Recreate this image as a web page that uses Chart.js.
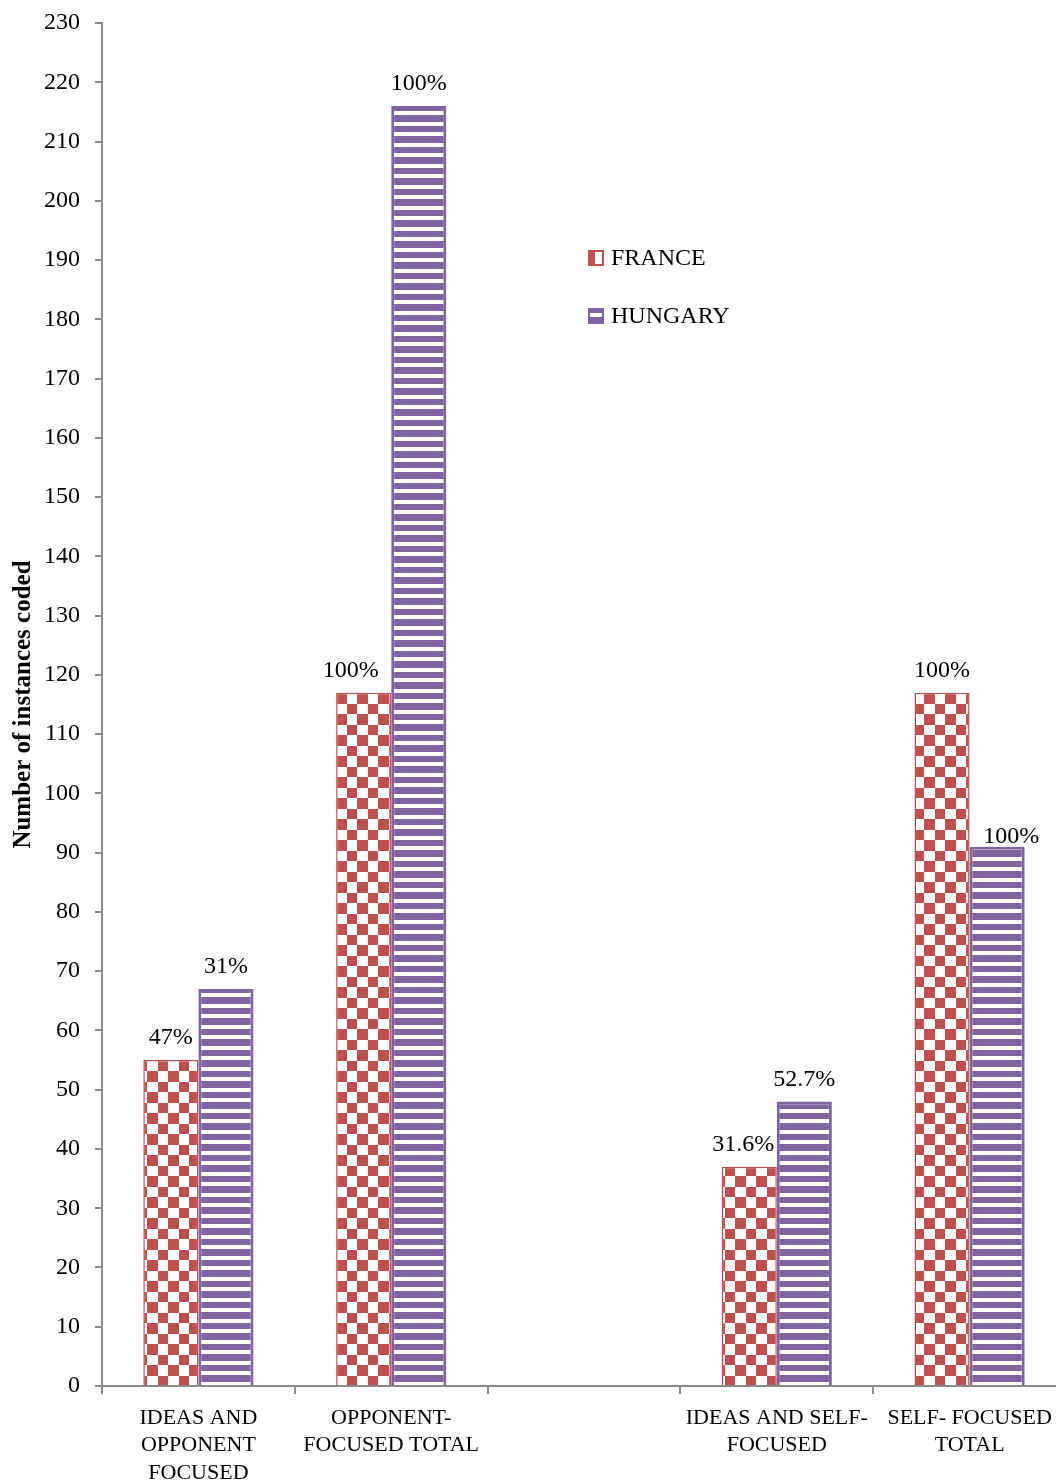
<!DOCTYPE html>
<html>
<head>
<meta charset="utf-8">
<script src="https://cdn.jsdelivr.net/npm/chart.js@4.4.1/dist/chart.umd.min.js"></script>
<style>
  html, body { margin: 0; padding: 0; background: #ffffff; overflow: hidden; }
  #wrap { width: 1066px; height: 1482px; position: relative; }
</style>
</head>
<body>
<div id="wrap"><canvas id="chart" width="1066" height="1482"></canvas></div>
<script>
// Categories (the third slot is an empty spacer group)
const categories = [
  ["IDEAS AND", "OPPONENT", "FOCUSED"],
  ["OPPONENT-", "FOCUSED TOTAL"],
  "",
  ["IDEAS AND SELF-", "FOCUSED"],
  ["SELF- FOCUSED", "TOTAL"]
];

// Number of instances coded
const franceValues  = [55, 117, null, 37, 117];
const hungaryValues = [67, 216, null, 48, 91];

// Share labels printed above each bar
const franceLabels  = ["47%", "100%", "", "31.6%", "100%"];
const hungaryLabels = ["31%", "100%", "", "52.7%", "100%"];

// Value axis range
const yMin = 0;
const yMax = 230;
const yStep = 10;

const RED = '#C0504D';
const PURPLE = '#8064A2';
const AXIS = '#8a8a8a';
const FONT = '"Liberation Serif", "Times New Roman", serif';

// Red-and-white checkerboard fill
function checkerPattern() {
  const t = document.createElement('canvas');
  t.width = 21; t.height = 21;
  const g = t.getContext('2d');
  g.fillStyle = '#ffffff';
  g.fillRect(0, 0, 21, 21);
  g.fillStyle = RED;
  g.fillRect(0, 0, 11, 11);
  g.fillRect(11, 11, 10, 10);
  return g.createPattern(t, 'repeat');
}

// Purple horizontal stripes on white
function stripePattern() {
  const t = document.createElement('canvas');
  t.width = 8; t.height = 21;
  const g = t.getContext('2d');
  g.fillStyle = '#ffffff';
  g.fillRect(0, 0, 8, 21);
  g.fillStyle = PURPLE;
  g.fillRect(0, 0, 8, 6);
  g.fillRect(0, 10, 8, 7);
  return g.createPattern(t, 'repeat');
}

// Percentage labels above the bars
const barLabelPlugin = {
  id: 'barLabels',
  afterDatasetsDraw(chart, args, opts) {
    const ctx = chart.ctx;
    ctx.save();
    ctx.font = opts.font;
    ctx.fillStyle = '#000000';
    ctx.textAlign = 'center';
    ctx.textBaseline = 'middle';
    chart.data.datasets.forEach((ds, di) => {
      const meta = chart.getDatasetMeta(di);
      const texts = opts.texts[di];
      const dx = opts.nudgeX[di];
      const dy = opts.nudgeY[di];
      meta.data.forEach((bar, i) => {
        if (ds.data[i] == null || !texts[i]) return;
        ctx.fillText(texts[i], bar.x + dx[i], bar.y - opts.gap + dy[i]);
      });
    });
    ctx.restore();
  }
};

// Legend drawn inside the plot area
const insideLegendPlugin = {
  id: 'insideLegend',
  afterDraw(chart, args, opts) {
    const ctx = chart.ctx;
    ctx.save();
    ctx.font = opts.font;
    ctx.textAlign = 'left';
    ctx.textBaseline = 'middle';
    opts.items.forEach((it, k) => {
      const cy = opts.y + k * opts.rowGap;
      const x = opts.x, y = cy - 8;
      ctx.fillStyle = it.color;
      ctx.fillRect(x, y, 16, 16);
      ctx.fillStyle = '#ffffff';
      if (it.kind === 'check') ctx.fillRect(x + 7, y + 2, 7, 12);
      else ctx.fillRect(x + 2, y + 5, 12, 4);
      ctx.fillStyle = '#000000';
      ctx.fillText(it.text, x + 23, cy + 1);
    });
    ctx.restore();
  }
};

const ctx = document.getElementById('chart').getContext('2d');

new Chart(ctx, {
  type: 'bar',
  data: {
    labels: categories,
    datasets: [
      {
        label: 'FRANCE',
        data: franceValues,
        backgroundColor: checkerPattern(),
        borderColor: RED,
        borderWidth: 1.5,
        borderSkipped: 'start',
        categoryPercentage: 2 / 3.5,
        barPercentage: 1.0
      },
      {
        label: 'HUNGARY',
        data: hungaryValues,
        backgroundColor: stripePattern(),
        borderColor: PURPLE,
        borderWidth: 3,
        borderSkipped: 'start',
        categoryPercentage: 2 / 3.5,
        barPercentage: 1.0
      }
    ]
  },
  options: {
    responsive: false,
    animation: false,
    devicePixelRatio: 1,
    layout: { padding: { top: 23, right: 0, bottom: 0, left: 0 } },
    plugins: {
      legend: { display: false },
      tooltip: { enabled: false },
      barLabels: {
        font: '24px ' + FONT,
        gap: 22,
        texts: [franceLabels, hungaryLabels],
        nudgeX: [[0, -13, 0, -6, 0], [0, 0, 0, 0, 14]],
        nudgeY: [[0, 0, 0, 0, 0], [0, 0, 0, 0, 12]]
      },
      insideLegend: {
        font: '24px ' + FONT,
        x: 588,
        y: 258,
        rowGap: 58,
        items: [
          { text: 'FRANCE', color: RED, kind: 'check' },
          { text: 'HUNGARY', color: PURPLE, kind: 'stripe' }
        ]
      }
    },
    scales: {
      x: {
        offset: true,
        afterFit(scale) {
          scale.height = 96;
          scale.paddingLeft = 0;
          scale.paddingRight = 0;
        },
        border: { display: true, color: AXIS, width: 2 },
        grid: {
          offset: true,
          drawOnChartArea: false,
          drawTicks: true,
          tickLength: 8,
          color: AXIS,
          lineWidth: 2
        },
        ticks: {
          color: '#000000',
          font: { family: FONT, size: 22, lineHeight: 1.25 },
          padding: 10,
          maxRotation: 0,
          minRotation: 0,
          autoSkip: false
        }
      },
      y: {
        min: yMin,
        max: yMax,
        afterFit(scale) {
          scale.width = 102;
          scale.paddingTop = 0;
          scale.paddingBottom = 0;
        },
        border: { display: true, color: AXIS, width: 2 },
        grid: {
          drawOnChartArea: false,
          drawTicks: true,
          tickLength: 7,
          color: AXIS,
          lineWidth: 2
        },
        ticks: {
          stepSize: yStep,
          color: '#000000',
          font: { family: FONT, size: 24 },
          padding: 15
        },
        title: {
          display: true,
          text: 'Number of instances coded',
          color: '#000000',
          font: { family: FONT, size: 25, weight: 'bold' },
          padding: { top: 9, bottom: 0 }
        }
      }
    }
  },
  plugins: [barLabelPlugin, insideLegendPlugin]
});
</script>
</body>
</html>
